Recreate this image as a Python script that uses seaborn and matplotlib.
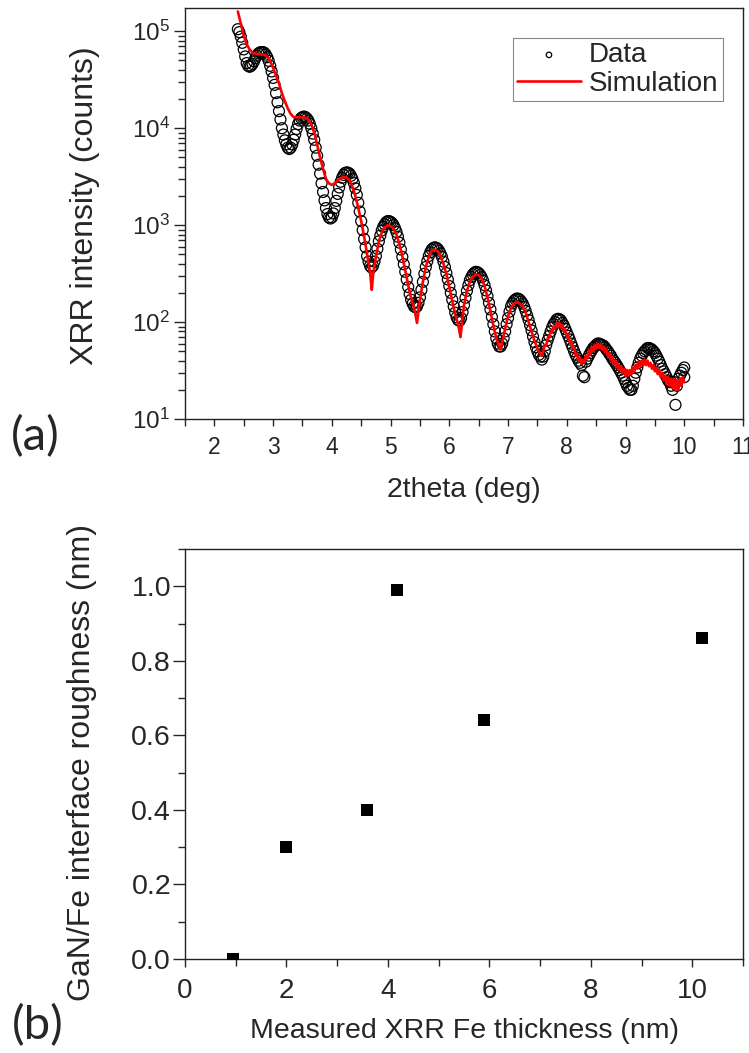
import numpy as np
import pandas as pd
import matplotlib
matplotlib.use("Agg")
import matplotlib.pyplot as plt
import seaborn as sns
from matplotlib.ticker import MultipleLocator, LogLocator, NullFormatter

# ---------------- data: panel (a) XRR ----------------
theta_data = [
    2.400, 2.425, 2.450, 2.475, 2.500, 2.525, 2.550, 2.575, 2.600, 2.625, 2.650, 2.675,
    2.700, 2.725, 2.750, 2.775, 2.800, 2.825, 2.850, 2.875, 2.900, 2.925, 2.950, 2.975,
    3.000, 3.025, 3.050, 3.075, 3.100, 3.125, 3.150, 3.175, 3.200, 3.225, 3.250, 3.275,
    3.300, 3.325, 3.350, 3.375, 3.400, 3.425, 3.450, 3.475, 3.500, 3.525, 3.550, 3.575,
    3.600, 3.625, 3.650, 3.675, 3.700, 3.725, 3.750, 3.775, 3.800, 3.825, 3.850, 3.875,
    3.900, 3.925, 3.950, 3.975, 4.000, 4.025, 4.050, 4.075, 4.100, 4.125, 4.150, 4.175,
    4.200, 4.225, 4.250, 4.275, 4.300, 4.325, 4.350, 4.375, 4.400, 4.425, 4.450, 4.475,
    4.500, 4.525, 4.550, 4.575, 4.600, 4.625, 4.650, 4.675, 4.700, 4.725, 4.750, 4.775,
    4.800, 4.825, 4.850, 4.875, 4.900, 4.925, 4.950, 4.975, 5.000, 5.025, 5.050, 5.075,
    5.100, 5.125, 5.150, 5.175, 5.200, 5.225, 5.250, 5.275, 5.300, 5.325, 5.350, 5.375,
    5.400, 5.425, 5.450, 5.475, 5.500, 5.525, 5.550, 5.575, 5.600, 5.625, 5.650, 5.675,
    5.700, 5.725, 5.750, 5.775, 5.800, 5.825, 5.850, 5.875, 5.900, 5.925, 5.950, 5.975,
    6.000, 6.025, 6.050, 6.075, 6.100, 6.125, 6.150, 6.175, 6.200, 6.225, 6.250, 6.275,
    6.300, 6.325, 6.350, 6.375, 6.400, 6.425, 6.450, 6.475, 6.500, 6.525, 6.550, 6.575,
    6.600, 6.625, 6.650, 6.675, 6.700, 6.725, 6.750, 6.775, 6.800, 6.825, 6.850, 6.875,
    6.900, 6.925, 6.950, 6.975, 7.000, 7.025, 7.050, 7.075, 7.100, 7.125, 7.150, 7.175,
    7.200, 7.225, 7.250, 7.275, 7.300, 7.325, 7.350, 7.375, 7.400, 7.425, 7.450, 7.475,
    7.500, 7.525, 7.550, 7.575, 7.600, 7.625, 7.650, 7.675, 7.700, 7.725, 7.750, 7.775,
    7.800, 7.825, 7.850, 7.875, 7.900, 7.925, 7.950, 7.975, 8.000, 8.025, 8.050, 8.075,
    8.100, 8.125, 8.150, 8.175, 8.200, 8.225, 8.250, 8.275, 8.300, 8.325, 8.350, 8.375,
    8.400, 8.425, 8.450, 8.475, 8.500, 8.525, 8.550, 8.575, 8.600, 8.625, 8.650, 8.675,
    8.700, 8.725, 8.750, 8.775, 8.800, 8.825, 8.850, 8.875, 8.900, 8.925, 8.950, 8.975,
    9.000, 9.025, 9.050, 9.075, 9.100, 9.125, 9.150, 9.175, 9.200, 9.225, 9.250, 9.275,
    9.300, 9.325, 9.350, 9.375, 9.400, 9.425, 9.450, 9.475, 9.500, 9.525, 9.550, 9.575,
    9.600, 9.625, 9.650, 9.675, 9.700, 9.725, 9.750, 9.775, 9.800, 9.825, 9.850, 9.875,
    9.900, 9.925, 9.950, 9.975, 10.000, 10.000]
counts_data = [
    105000, 98000, 88000, 76000, 65000, 55000, 47000, 44000, 43000, 44000, 46000, 49000,
    53000, 56000, 59000, 60500, 61000, 61000, 60000, 57500, 54000, 49500, 44000, 38500,
    33000, 28000, 23000, 18500, 15000, 12300, 10000, 8600, 7500, 6800, 6300, 6100,
    6300, 6800, 7600, 8600, 9800, 11000, 12000, 12700, 13000, 13200, 13000, 12600,
    12000, 11100, 10000, 8800, 7600, 6300, 5200, 4200, 3400, 2700, 2200, 1800,
    1500, 1300, 1200, 1170, 1200, 1320, 1500, 1780, 2100, 2450, 2800, 3080,
    3300, 3450, 3500, 3480, 3400, 3230, 3000, 2720, 2400, 2050, 1700, 1380,
    1100, 890, 720, 590, 480, 420, 380, 365, 380, 420, 480, 570,
    680, 780, 880, 960, 1020, 1070, 1100, 1100, 1080, 1050, 1000, 930,
    850, 760, 660, 560, 470, 395, 330, 275, 230, 195, 170, 155,
    145, 142, 145, 158, 180, 215, 260, 315, 370, 425, 480, 525,
    560, 580, 590, 585, 570, 545, 510, 470, 420, 370, 320, 275,
    235, 200, 170, 145, 125, 112, 105, 103, 110, 127, 150, 178,
    210, 240, 270, 292, 310, 322, 330, 328, 320, 307, 290, 267,
    240, 212, 185, 158, 135, 113, 95, 80, 68, 60, 56, 56,
    60, 68, 80, 95, 110, 128, 145, 156, 165, 171, 175, 174,
    170, 163, 155, 143, 130, 117, 105, 93, 82, 71, 62, 55,
    50, 46, 44, 41, 44, 50, 58, 65, 72, 80, 88, 95,
    100, 106, 108, 107, 104, 98, 92, 85, 78, 72, 66, 60,
    55, 50, 46, 43, 40, 38, 36, 28, 27, 39, 42, 45,
    48, 51, 54, 56, 58, 60, 60, 59, 58, 57, 55, 52,
    50, 47, 45, 42, 40, 38, 36, 34, 32, 30, 28, 26,
    24, 22, 21, 20, 20, 22, 26, 30, 34, 38, 42, 45,
    48, 50, 52, 54, 54, 53, 52, 50, 48, 45, 42, 39,
    36, 33, 31, 29, 27, 25, 24, 22, 20, 24, 14, 22,
    26, 28, 30, 32, 34, 27]

theta_sim = [
    2.40, 2.45, 2.50, 2.55, 2.60, 2.65, 2.70, 2.75, 2.80, 2.85, 2.90, 2.95,
    3.00, 3.05, 3.10, 3.15, 3.20, 3.25, 3.30, 3.35, 3.40, 3.45, 3.50, 3.55,
    3.60, 3.65, 3.70, 3.75, 3.80, 3.85, 3.90, 3.95, 4.00, 4.05, 4.10, 4.15,
    4.20, 4.25, 4.30, 4.35, 4.40, 4.45, 4.50, 4.55, 4.60, 4.65, 4.68, 4.70,
    4.75, 4.80, 4.85, 4.90, 4.95, 5.00, 5.05, 5.10, 5.15, 5.20, 5.25, 5.30,
    5.35, 5.40, 5.45, 5.50, 5.55, 5.60, 5.65, 5.70, 5.75, 5.80, 5.85, 5.90,
    5.95, 6.00, 6.05, 6.10, 6.15, 6.19, 6.25, 6.30, 6.35, 6.40, 6.45, 6.50,
    6.55, 6.60, 6.65, 6.70, 6.75, 6.80, 6.87, 6.90, 6.95, 7.00, 7.05, 7.10,
    7.15, 7.20, 7.25, 7.30, 7.35, 7.40, 7.45, 7.500, 7.525, 7.550, 7.575,
    7.600, 7.625, 7.650, 7.675, 7.700, 7.725, 7.750, 7.775, 7.800, 7.825, 7.850, 7.875,
    7.900, 7.925, 7.950, 7.975, 8.000, 8.025, 8.050, 8.075, 8.100, 8.125, 8.150, 8.175,
    8.200, 8.225, 8.250, 8.275, 8.300, 8.325, 8.350, 8.375, 8.400, 8.425, 8.450, 8.475,
    8.500, 8.525, 8.550, 8.575, 8.600, 8.625, 8.650, 8.675, 8.700, 8.725, 8.750, 8.775,
    8.800, 8.825, 8.850, 8.875, 8.900, 8.925, 8.950, 8.975, 9.000, 9.025, 9.050, 9.075,
    9.100, 9.125, 9.150, 9.175, 9.200, 9.225, 9.250, 9.275, 9.300, 9.325, 9.350, 9.375,
    9.400, 9.425, 9.450, 9.475, 9.500, 9.525, 9.550, 9.575, 9.600, 9.625, 9.650, 9.675,
    9.700, 9.725, 9.750, 9.775, 9.800, 9.825, 9.850, 9.875, 9.900, 9.925, 9.950, 9.975,
    10.000]
counts_sim = [
    160000, 120000, 90000, 73000, 65000, 60000, 59000, 58000, 58000, 57000, 55000, 49000,
    42000, 35000, 29000, 23000, 19000, 16000, 14000, 13000, 13000, 13000, 13000, 12800,
    12200, 11000, 9000, 6800, 5000, 3800, 3000, 2700, 2600, 2700, 2900, 3050,
    3150, 3100, 2900, 2500, 2000, 1500, 1100, 760, 500, 330, 215, 300,
    470, 680, 840, 950, 1000, 980, 920, 800, 640, 480, 340, 240,
    175, 140, 98, 170, 260, 370, 470, 540, 560, 540, 480, 400,
    310, 230, 165, 120, 95, 70, 150, 210, 260, 295, 310, 305,
    280, 235, 180, 130, 92, 68, 52, 62, 85, 115, 140, 155,
    160, 155, 145, 125, 100, 80, 64, 54, 50, 47, 45,
    50, 58, 57, 68, 69, 80, 78, 90, 85, 97, 89, 98,
    88, 93, 82, 84, 72, 74, 62, 63, 53, 54, 45, 47,
    40, 43, 37, 41, 38, 45, 42, 50, 46, 55, 50, 58,
    53, 60, 54, 59, 52, 56, 49, 52, 45, 48, 41, 44,
    37, 40, 34, 37, 32, 35, 30, 33, 28, 32, 28, 32,
    29, 34, 31, 36, 33, 39, 35, 40, 36, 41, 36, 40,
    35, 38, 33, 36, 31, 34, 29, 32, 27, 30, 25, 28,
    23, 27, 22, 26, 21, 26, 20, 25, 20, 26, 22, 27,
    24]

# ---------------- data: panel (b) roughness ----------------
fe_thickness = [0.95, 2.0, 3.58, 4.18, 5.89, 10.19]
roughness = [0.0, 0.30, 0.40, 0.99, 0.64, 0.86]

xrr_xticks = [2, 3, 4, 5, 6, 7, 8, 9, 10, 11]
b_xticks = [0, 2, 4, 6, 8, 10]
b_yticks = [0.0, 0.2, 0.4, 0.6, 0.8, 1.0]

# ---------------- style ----------------
sns.set_style("ticks")
plt.rcParams["font.family"] = ["Liberation Sans", "DejaVu Sans"]
plt.rcParams["mathtext.fontset"] = "custom"
plt.rcParams["mathtext.rm"] = "Liberation Sans"
plt.rcParams["mathtext.it"] = "Liberation Sans"
plt.rcParams["axes.linewidth"] = 1.0
plt.rcParams["axes.edgecolor"] = "#222222"

fig = plt.figure(figsize=(7.49, 10.53), dpi=100)
W, H = 749, 1053
ax1 = fig.add_axes([185 / W, 1 - 419 / H, (743 - 185) / W, (419 - 8) / H])
ax2 = fig.add_axes([185 / W, 1 - 959 / H, (743 - 185) / W, (959 - 549) / H])

df_data = pd.DataFrame({"theta": theta_data, "counts": counts_data})
df_sim = pd.DataFrame({"theta": theta_sim, "counts": counts_sim})

sns.scatterplot(data=df_data, x="theta", y="counts", ax=ax1, marker="o", s=62,
                facecolor="none", edgecolor="black", linewidth=0.9, label="Data", zorder=2)
sns.lineplot(data=df_sim, x="theta", y="counts", ax=ax1, color="#ff0000", linewidth=1.9,
             sort=False, estimator=None, label="Simulation", zorder=3)

ax1.set_yscale("log")
ax1.set_xlim(1.5, 11)
ax1.set_ylim(10, 10 ** 5.24)
ax1.set_xticks(xrr_xticks)
ax1.xaxis.set_minor_locator(MultipleLocator(0.5))
ax1.yaxis.set_major_locator(LogLocator(base=10, numticks=10))
ax1.yaxis.set_minor_locator(LogLocator(base=10, subs=np.arange(2, 10), numticks=20))
ax1.yaxis.set_minor_formatter(NullFormatter())
ax1.tick_params(axis="x", which="major", length=5, width=1, pad=7, labelsize=16.5, direction="out")
ax1.tick_params(axis="x", which="minor", length=5, width=1, direction="out")
ax1.tick_params(axis="y", which="major", length=8, width=1, pad=3, labelsize=17.5, direction="out")
ax1.tick_params(axis="y", which="minor", length=5, width=1, direction="out")
ax1.set_xlabel("2theta (deg)", fontsize=20.5)
ax1.set_ylabel("XRR intensity (counts)", fontsize=23)
ax1.xaxis.set_label_coords(0.5, -0.14)
ax1.yaxis.set_label_coords(-0.152, 0.52)

leg = ax1.legend(loc="upper right", bbox_to_anchor=(0.964, 0.927), fontsize=20,
                 frameon=True, fancybox=False, framealpha=1, edgecolor="#888888",
                 borderpad=0.15, labelspacing=0.1, handlelength=2.3, handletextpad=0.3,
                 borderaxespad=0, markerscale=0.5)
leg.get_frame().set_linewidth(0.8)

sns.scatterplot(x=fe_thickness, y=roughness, ax=ax2, marker="s", s=85, color="black",
                edgecolor="black", linewidth=0, zorder=3)
ax2.set_xlim(0, 11)
ax2.set_ylim(0, 1.1)
ax2.set_xticks(b_xticks)
ax2.set_yticks(b_yticks)
ax2.xaxis.set_minor_locator(MultipleLocator(1))
ax2.yaxis.set_minor_locator(MultipleLocator(0.1))
ax2.tick_params(axis="x", which="major", length=6, width=1, pad=8, labelsize=20, direction="out")
ax2.tick_params(axis="x", which="minor", length=5, width=1, direction="out")
ax2.tick_params(axis="y", which="major", length=9, width=1, pad=1, labelsize=20.5, direction="out")
ax2.tick_params(axis="y", which="minor", length=5, width=1, direction="out")
ax2.set_xlabel("Measured XRR Fe thickness (nm)", fontsize=20.5)
ax2.set_ylabel("GaN/Fe interface roughness (nm)", fontsize=23)
ax2.xaxis.set_label_coords(0.5, -0.145)
ax2.yaxis.set_label_coords(-0.158, 0.48)

for ax in (ax1, ax2):
    for sp in ax.spines.values():
        sp.set_visible(True)
        sp.set_linewidth(1.0)

fig.text(11 / W, 1 - 437 / H, "(a)", fontsize=34, family=["Lato", "DejaVu Sans"],
         ha="left", va="center")
fig.text(12 / W, 1 - 1026 / H, "(b)", fontsize=34, family=["Lato", "DejaVu Sans"],
         ha="left", va="center")

fig.savefig("out.png", dpi=100)
